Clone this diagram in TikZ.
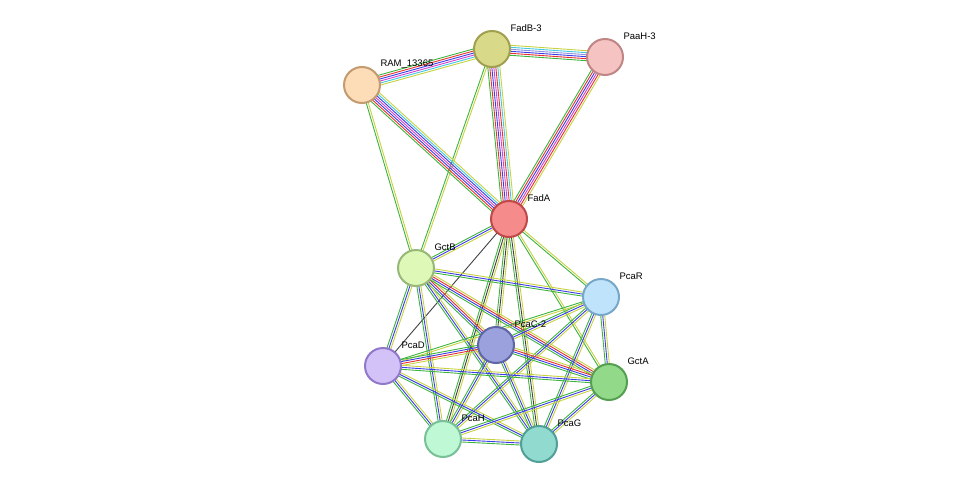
\documentclass[tikz,border=0pt]{standalone}
\usepackage{fontspec}
\setmainfont{Liberation Sans}
\usetikzlibrary{calc,backgrounds}
\definecolor{cg}{HTML}{3DB43D}\definecolor{cb}{HTML}{3C3CE8}\definecolor{cy}{HTML}{C8D240}
\definecolor{cr}{HTML}{E83030}\definecolor{cm}{HTML}{D040D0}\definecolor{cc}{HTML}{40C8E0}
\definecolor{ck}{HTML}{404040}\definecolor{cp}{HTML}{9090E0}
\newcommand{\E}[4]{\foreach \c [count=\i] in {#4}{\pgfmathsetmacro\o{(\i-(#3+1)/2)*2}
 \draw[draw=\c,line width=0.9pt] ($(#1)!\o pt!90:(#2)$) -- ($(#2)!\o pt!-90:(#1)$);}}
\tikzset{prot/.style 2 args={circle,minimum size=36pt,inner sep=0,line width=2pt,fill=#1,draw=#2},
 lab/.style={font=\fontsize{9.5}{10}\selectfont,anchor=west}}
\begin{document}
\begin{tikzpicture}[x=1pt,y=-1pt]
\useasboundingbox (0,0) rectangle (975,490);
\foreach \n/\x/\y/\f/\d/\t in {FB/492/49/D9D98A/A0A050/FadB-3, PA/605/57/F6C3C3/C08585/PaaH-3, RA/362/85/FDDCB8/C49A70/RAM\_13365, FA/509/219/F58B8B/C04848/FadA, GB/416/268/DEF8B8/98B878/GctB, PR/601/297/BFE3FB/78A8C8/PcaR, PC/496/345/9AA1DC/5E66A8/PcaC-2, PD/383/366/D2C2F8/9178C8/PcaD, GA/609/382/93D98A/55A050/GctA, PH/443/439/BEF8D4/78C098/PcaH, PG/539/444/90DAD0/50A098/PcaG}{
 \definecolor{f}{HTML}{\f}\definecolor{d}{HTML}{\d}
 \node[prot={f}{d}] (\n) at (\x,\y) {};
 \node[lab] at (\x+15,\y-21) {\t};}
\begin{scope}[on background layer]
\E{FB}{PA}{6}{cg,cr,cb,cp,cc,cy}
\E{FB}{RA}{6}{cg,cr,cb,cm,cc,cy}
\E{FB}{FA}{7}{cg,cr,cb,cm,cr,cc,cy}
\E{PA}{FA}{6}{cg,cr,cb,cm,cr,cy}
\E{FB}{GB}{2}{cg,cy}
\E{RA}{FA}{7}{cg,cr,cb,cm,cb,cc,cy}
\E{RA}{GB}{2}{cg,cy}
\E{FA}{GB}{3}{cg,cb,cy}
\E{FA}{PR}{2}{cg,cy}
\E{FA}{PC}{3}{cg,ck,cy}
\E{FA}{PD}{1}{ck}
\E{FA}{GA}{2}{cg,cy}
\E{FA}{PH}{3}{cg,ck,cy}
\E{FA}{PG}{3}{cg,ck,cy}
\E{GB}{PR}{3}{cg,cb,cy}
\E{GB}{PC}{4}{cg,cb,cr,cy}
\E{GB}{GA}{4}{cg,cb,cr,cy}
\E{GB}{PD}{3}{cg,cb,cy}
\E{GB}{PH}{3}{cg,cb,cy}
\E{GB}{PG}{3}{cg,cb,cy}
\E{PR}{PC}{3}{cg,cb,cy}
\E{PR}{GA}{3}{cg,cb,cy}
\E{PR}{PD}{2}{cg,cy}
\E{PR}{PH}{3}{cg,cb,cy}
\E{PR}{PG}{3}{cg,cb,cy}
\E{PC}{PD}{4}{cg,cb,cr,cy}
\E{PC}{GA}{4}{cg,cb,cr,cy}
\E{PC}{PH}{3}{cg,cb,cy}
\E{PC}{PG}{3}{cg,cb,cy}
\E{PD}{GA}{3}{cg,cb,cy}
\E{PD}{PH}{3}{cg,cb,cy}
\E{PD}{PG}{3}{cg,cb,cy}
\E{GA}{PH}{3}{cg,cb,cy}
\E{GA}{PG}{3}{cg,cb,cy}
\E{PH}{PG}{3}{cg,cb,cy}
\end{scope}
\end{tikzpicture}
\end{document}
